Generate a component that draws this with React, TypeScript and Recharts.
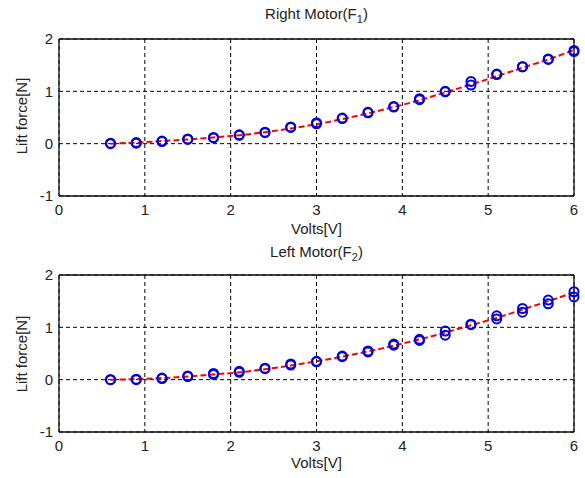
import { LineChart, Line, XAxis, YAxis, CartesianGrid, ReferenceLine } from "recharts";

// applied voltage for each measurement
const volts = [0.6, 0.9, 1.2, 1.5, 1.8, 2.1, 2.4, 2.7, 3.0, 3.3, 3.6, 3.9, 4.2, 4.5, 4.8, 5.1, 5.4, 5.7, 6.0];

// right motor (F1) measured lift, two trials, and fitted curve
const rightTrial1 = [0.0, 0.01, 0.04, 0.08, 0.11, 0.16, 0.21, 0.31, 0.38, 0.48, 0.59, 0.71, 0.84, 1.0, 1.12, 1.32, 1.47, 1.61, 1.76];
const rightTrial2 = [0.01, 0.02, 0.05, 0.09, 0.12, 0.17, 0.22, 0.32, 0.4, 0.49, 0.6, 0.7, 0.86, 0.99, 1.19, 1.33, 1.47, 1.62, 1.78];
const rightFit = [0.0, 0.02, 0.05, 0.08, 0.12, 0.16, 0.22, 0.29, 0.37, 0.47, 0.58, 0.7, 0.83, 0.98, 1.13, 1.29, 1.45, 1.61, 1.79];

// left motor (F2)
const leftTrial1 = [0.0, 0.0, 0.02, 0.06, 0.1, 0.14, 0.21, 0.28, 0.34, 0.44, 0.53, 0.66, 0.75, 0.85, 1.05, 1.16, 1.29, 1.45, 1.58];
const leftTrial2 = [0.0, 0.01, 0.03, 0.07, 0.12, 0.16, 0.22, 0.3, 0.35, 0.45, 0.55, 0.68, 0.77, 0.93, 1.06, 1.22, 1.36, 1.52, 1.68];
const leftFit = [0.0, 0.01, 0.03, 0.06, 0.1, 0.14, 0.2, 0.27, 0.35, 0.44, 0.54, 0.65, 0.77, 0.9, 1.04, 1.18, 1.34, 1.5, 1.67];

const xTicks = [0, 1, 2, 3, 4, 5, 6];
const yTicks = [-1, 0, 1, 2];

const font = "'Liberation Sans', Arial, sans-serif";
const tickStyle = { fontSize: 15, fill: "#222", fontFamily: font };

function MotorPlot({ t1, t2, fit, height, top }: { t1: number[]; t2: number[]; fit: number[]; height: number; top: number }) {
  const data = volts.map((v, i) => ({ v, t1: t1[i], t2: t2[i], fit: fit[i] }));
  const dot = { r: 4.5, stroke: "#0000dd", strokeWidth: 2, fill: "none" };
  return (
    <LineChart width={585} height={height} data={data} margin={{ top, right: 11, left: 0, bottom: 0 }}>
      <CartesianGrid stroke="#000" strokeDasharray="4 3" />
      <XAxis
        dataKey="v"
        type="number"
        domain={[0, 6]}
        ticks={xTicks}
        height={height - top - 157}
        tickLine={false}
        axisLine={{ stroke: "#111", strokeWidth: 1.3 }}
        tick={tickStyle}
      />
      <YAxis
        type="number"
        domain={[-1, 2]}
        ticks={yTicks}
        width={59}
        tickLine={false}
        tickMargin={0}
        axisLine={{ stroke: "#111", strokeWidth: 1.3 }}
        tick={tickStyle}
      />
      <ReferenceLine y={2} stroke="#111" strokeWidth={1.3} />
      <ReferenceLine x={6} stroke="#111" strokeWidth={1.3} />
      <Line dataKey="t1" stroke="none" dot={dot} activeDot={false} isAnimationActive={false} />
      <Line dataKey="t2" stroke="none" dot={dot} activeDot={false} isAnimationActive={false} />
      <Line
        dataKey="fit"
        type="monotone"
        stroke="#ff0000"
        strokeWidth={2}
        strokeDasharray="6 3"
        dot={false}
        activeDot={false}
        isAnimationActive={false}
      />
    </LineChart>
  );
}

const labelBase: React.CSSProperties = {
  position: "absolute",
  fontSize: 15,
  lineHeight: "16px",
  color: "#222",
  fontFamily: font,
  whiteSpace: "nowrap",
};

function Title({ text, sub, y }: { text: string; sub: string; y: number }) {
  return (
    <div style={{ ...labelBase, left: 59, width: 515, top: y, textAlign: "center" }}>
      {text}
      <span style={{ fontSize: 11, position: "relative", top: 4 }}>{sub}</span>)
    </div>
  );
}

function XLabel({ y }: { y: number }) {
  return <div style={{ ...labelBase, left: 59, width: 515, top: y, textAlign: "center" }}>Volts[V]</div>;
}

function YLabel({ cy }: { cy: number }) {
  return (
    <div style={{ ...labelBase, left: 22 - 60, width: 120, top: cy - 8, textAlign: "center", transform: "rotate(-90deg)" }}>
      Lift force[N]
    </div>
  );
}

export default function App() {
  return (
    <div style={{ position: "absolute", left: 0, top: 0, width: 585, height: 478, background: "#fff", overflow: "hidden" }}>
      <div style={{ position: "absolute", left: 0, top: 0 }}>
        <MotorPlot t1={rightTrial1} t2={rightTrial2} fit={rightFit} height={240} top={39} />
      </div>
      <div style={{ position: "absolute", left: 0, top: 240 }}>
        <MotorPlot t1={leftTrial1} t2={leftTrial2} fit={leftFit} height={238} top={35} />
      </div>
      <Title text="Right Motor(F" sub="1" y={6} />
      <XLabel y={221} />
      <YLabel cy={116} />
      <Title text="Left Motor(F" sub="2" y={244} />
      <XLabel y={455} />
      <YLabel cy={354} />
    </div>
  );
}
